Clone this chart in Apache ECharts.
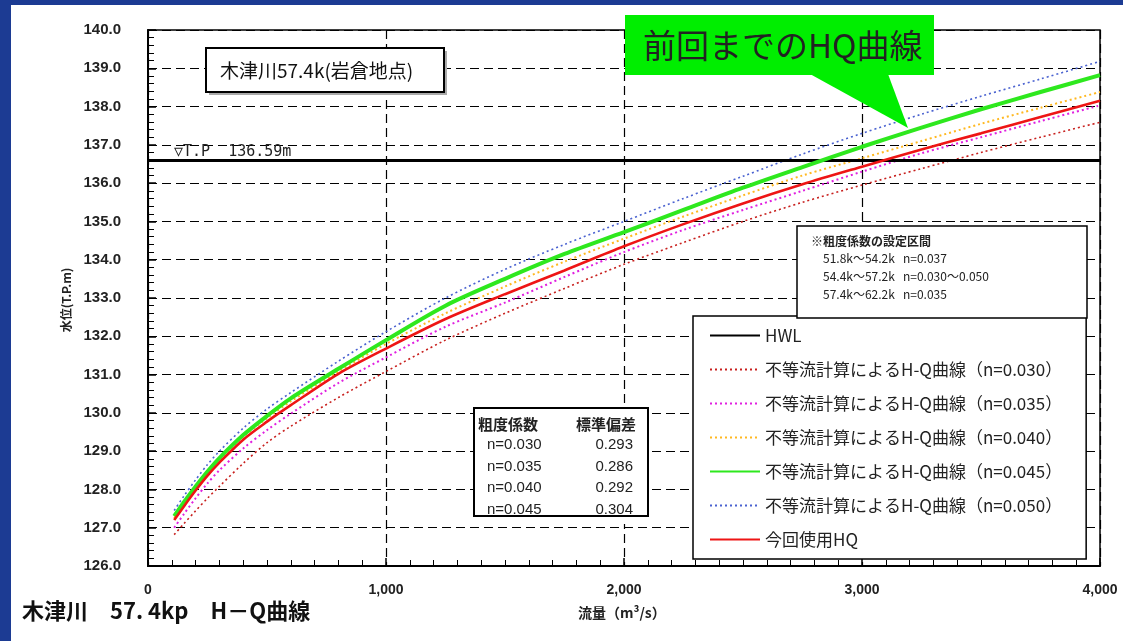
<!DOCTYPE html>
<html>
<head>
<meta charset="utf-8">
<script src="https://cdn.jsdelivr.net/npm/echarts@6/dist/echarts.min.js"></script>
<style>
html,body{margin:0;padding:0;background:#fff;}
#c{width:1123px;height:641px;}
</style>
</head>
<body>
<div id="c"></div>
<script>
// ---- data ----
const discharge = [110, 150, 200, 250, 300, 400, 500, 600, 800, 1000, 1250, 1500, 1750, 2000, 2250, 2500, 2750, 3000, 3250, 3500, 3750, 4000];
const hq030 = [126.82, 127.10, 127.44, 127.77, 128.08, 128.68, 129.22, 129.65, 130.40, 131.08, 131.90, 132.60, 133.25, 133.88, 134.45, 135.00, 135.50, 135.95, 136.38, 136.80, 137.20, 137.59];
const hq035 = [127.00, 127.35, 127.77, 128.16, 128.50, 129.07, 129.55, 129.98, 130.78, 131.45, 132.25, 132.88, 133.55, 134.20, 134.78, 135.30, 135.80, 136.30, 136.78, 137.20, 137.62, 138.03];
const hq040 = [127.25, 127.61, 128.03, 128.42, 128.77, 129.37, 129.86, 130.30, 131.08, 131.80, 132.60, 133.30, 133.95, 134.55, 135.13, 135.68, 136.20, 136.65, 137.10, 137.55, 137.97, 138.38];
const hq045 = [127.30, 127.66, 128.08, 128.47, 128.82, 129.42, 129.92, 130.38, 131.15, 131.90, 132.80, 133.50, 134.15, 134.72, 135.30, 135.88, 136.42, 136.95, 137.45, 137.93, 138.38, 138.82];
const hq050 = [127.45, 127.82, 128.25, 128.65, 129.00, 129.60, 130.10, 130.53, 131.35, 132.12, 133.00, 133.75, 134.40, 135.00, 135.60, 136.18, 136.76, 137.30, 137.80, 138.27, 138.72, 139.18];
const hqNow = [127.20, 127.55, 127.97, 128.36, 128.70, 129.30, 129.77, 130.20, 131.02, 131.68, 132.45, 133.10, 133.72, 134.35, 134.93, 135.47, 135.97, 136.43, 136.88, 137.30, 137.73, 138.15];
const hwlLevel = 136.59;
const xRange = [0, 4000];
const seriesNames = ['HWL', '不等流計算によるH-Q曲線（n=0.030）', '不等流計算によるH-Q曲線（n=0.035）', '不等流計算によるH-Q曲線（n=0.040）', '不等流計算によるH-Q曲線（n=0.045）', '不等流計算によるH-Q曲線（n=0.050）', '今回使用HQ'];
const tableHeader = ['粗度係数', '標準偏差'];
const tableN = ['n=0.030', 'n=0.035', 'n=0.040', 'n=0.045'];
const tableSD = ['0.293', '0.286', '0.292', '0.304'];
const sectionNote = ['※粗度係数の設定区間', '51.8k～54.2k   n=0.037', '54.4k～57.2k   n=0.030～0.050', '57.4k～62.2k   n=0.035'];

const pairs = ys => discharge.map((q, i) => [q, ys[i]]);
const FONT = '"Noto Sans CJK JP", "Noto Sans", sans-serif';
const NUMFONT = '"Liberation Sans", Arial, sans-serif';

const chart = echarts.init(document.getElementById('c'));

function dotted(name, ys, color, w) {
  return { name, type: 'line', data: pairs(ys), symbol: 'none', smooth: 0.3,
    lineStyle: { color, width: w, type: [2, 3] }, itemStyle: { color }, z: 2 };
}

const graphic = [
  { type: 'rect', shape: { x: 0, y: 0, width: 11, height: 641 }, style: { fill: '#1c3b93' }, z: 100 },
  { type: 'rect', shape: { x: 0, y: 0, width: 1123, height: 5 }, style: { fill: '#1c3b93' }, z: 100 },
  // title box
  { type: 'rect', shape: { x: 209, y: 51, width: 238, height: 44 }, style: { fill: '#aaa' }, z: 50 },
  { type: 'rect', shape: { x: 206, y: 48, width: 238, height: 44 }, style: { fill: '#fff', stroke: '#000', lineWidth: 2 }, z: 51 },
  { type: 'text', x: 220, y: 71, style: { text: '木津川57.4k(岩倉地点)', font: '19px ' + FONT, fill: '#111', verticalAlign: 'middle' }, z: 52 },
  // HWL label
  { type: 'text', x: 174, y: 152, style: { text: '▽T.P  136.59m', font: '15px "DejaVu Sans Mono", monospace', fill: '#222', verticalAlign: 'middle' }, z: 52 },
  // green callout
  { type: 'polygon', shape: { points: [[810, 74], [888, 74], [908, 128]] }, style: { fill: '#00ee00' }, z: 60 },
  { type: 'rect', shape: { x: 625, y: 15, width: 309, height: 60 }, style: { fill: '#00ee00' }, z: 60 },
  { type: 'text', x: 643, y: 45, style: { text: '前回までのHQ曲線', font: '33px ' + FONT, fill: '#222', verticalAlign: 'middle' }, z: 61 },
  // section note box
  { type: 'rect', shape: { x: 797, y: 226, width: 290, height: 92 }, style: { fill: '#fff', stroke: '#000', lineWidth: 1.5 }, z: 50 },
  { type: 'text', x: 811, y: 241, style: { text: sectionNote[0], font: 'bold 12px ' + FONT, fill: '#222', verticalAlign: 'middle' }, z: 51 },
  { type: 'text', x: 823, y: 258, style: { text: sectionNote[1], font: '12px ' + FONT, fill: '#222', verticalAlign: 'middle' }, z: 51 },
  { type: 'text', x: 823, y: 276, style: { text: sectionNote[2], font: '12px ' + FONT, fill: '#222', verticalAlign: 'middle' }, z: 51 },
  { type: 'text', x: 823, y: 294, style: { text: sectionNote[3], font: '12px ' + FONT, fill: '#222', verticalAlign: 'middle' }, z: 51 },
  // std table
  { type: 'rect', shape: { x: 474, y: 408, width: 174, height: 108 }, style: { fill: '#fff' }, z: 50 },
  { type: 'text', x: 478, y: 424, style: { text: tableHeader[0], font: 'bold 15px ' + FONT, fill: '#222', verticalAlign: 'middle' }, z: 51 },
  { type: 'text', x: 636, y: 424, style: { text: tableHeader[1], font: 'bold 15px ' + FONT, fill: '#222', verticalAlign: 'middle', align: 'right' }, z: 51 }
];
tableN.forEach((t, i) => {
  graphic.push({ type: 'text', x: 487, y: 445 + i * 21.5, style: { text: t, font: '15px ' + NUMFONT, fill: '#222', verticalAlign: 'middle' }, z: 51 });
  graphic.push({ type: 'text', x: 633, y: 445 + i * 21.5, style: { text: tableSD[i], font: '15px ' + NUMFONT, fill: '#222', verticalAlign: 'middle', align: 'right' }, z: 51 });
});
graphic.push({ type: 'rect', shape: { x: 474, y: 516, width: 174, height: 8 }, style: { fill: '#fff' }, z: 52 });
graphic.push({ type: 'rect', shape: { x: 474, y: 408, width: 174, height: 108 }, style: { fill: 'none', stroke: '#000', lineWidth: 2 }, z: 53 });
// bottom texts
graphic.push({ type: 'text', x: 22, y: 611, style: { text: '木津川　57. 4kp　H－Q曲線', font: 'bold 22px ' + FONT, fill: '#111', verticalAlign: 'middle' }, z: 51 });
graphic.push({ type: 'text', x: 578, y: 613, style: { text: '流量（m³/s）', font: 'bold 14px ' + FONT, fill: '#222', verticalAlign: 'middle' }, z: 51 });
graphic.push({ type: 'text', x: 66, y: 300, rotation: Math.PI / 2, style: { text: '水位(T.P.m)', font: 'bold 12px ' + FONT, fill: '#222', verticalAlign: 'middle', align: 'center' }, z: 51 });

chart.setOption({
  animation: false,
  textStyle: { fontFamily: FONT },
  grid: { left: 148, right: 23, top: 30, bottom: 75, show: true, borderColor: '#000', borderWidth: 1.5 },
  xAxis: {
    type: 'value', min: xRange[0], max: xRange[1], interval: 1000,
    axisLine: { show: true, onZero: false, lineStyle: { color: '#000', width: 2 } },
    axisTick: { show: true, inside: true, length: 8, lineStyle: { color: '#000', width: 1.5 } },
    minorTick: { show: true, splitNumber: 10, length: 6, lineStyle: { color: '#000', width: 1 } },
    axisLabel: { color: '#222', fontSize: 14, fontWeight: 'bold', margin: 17, fontFamily: NUMFONT,
      formatter: v => v.toLocaleString('en-US') },
    splitLine: { show: true, lineStyle: { color: '#000', type: [9, 5], width: 1.2 } }
  },
  yAxis: {
    type: 'value', min: 126, max: 140, interval: 1,
    axisLine: { show: true, onZero: false, lineStyle: { color: '#000', width: 2 } },
    axisTick: { show: true, inside: true, length: 8, lineStyle: { color: '#000', width: 1.5 } },
    minorTick: { show: true, splitNumber: 5, length: 6, lineStyle: { color: '#000', width: 1 } },
    axisLabel: { color: '#222', fontSize: 15, fontWeight: 'bold', margin: 27, fontFamily: NUMFONT,
      formatter: v => v.toFixed(1) },
    splitLine: { show: true, lineStyle: { color: '#000', type: [9, 5], width: 1.2 } }
  },
  legend: {
    orient: 'vertical', left: 693, top: 316, data: seriesNames,
    backgroundColor: '#fff', borderColor: '#000', borderWidth: 1.5,
    padding: [11, 24, 11, 16], itemGap: 17, itemWidth: 50, itemHeight: 14,
    itemStyle: { opacity: 0 },
    textStyle: { fontSize: 17, color: '#222', fontFamily: FONT }, z: 40
  },
  graphic,
  series: [
    { name: seriesNames[0], type: 'line', data: xRange.map(x => [x, hwlLevel]), symbol: 'none',
      lineStyle: { color: '#000', width: 3 }, itemStyle: { color: '#000' }, z: 3 },
    dotted(seriesNames[1], hq030, '#c8201e', 1.6),
    dotted(seriesNames[2], hq035, '#e020e0', 2),
    dotted(seriesNames[3], hq040, '#ffb820', 2),
    { name: seriesNames[4], type: 'line', data: pairs(hq045), symbol: 'none', smooth: 0.3,
      lineStyle: { color: '#2ee81e', width: 4 }, itemStyle: { color: '#2ee81e' }, z: 4 },
    dotted(seriesNames[5], hq050, '#4a62d0', 1.6),
    { name: seriesNames[6], type: 'line', data: pairs(hqNow), symbol: 'none', smooth: 0.3,
      lineStyle: { color: '#ee1515', width: 2.6 }, itemStyle: { color: '#ee1515' }, z: 5 }
  ]
});
</script>
</body>
</html>
